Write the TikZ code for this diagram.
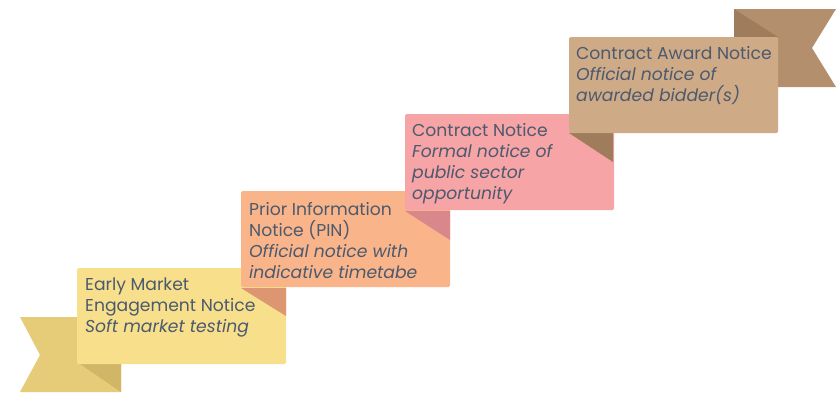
\documentclass[tikz,border=0pt]{standalone}
\usepackage{fontspec}
\setmainfont{Poppins}
\definecolor{ink}{HTML}{4B5A6E}
\definecolor{yelBox}{HTML}{F7DF8B}
\definecolor{yelTail}{HTML}{E6CB79}
\definecolor{yelFold}{HTML}{D2B667}
\definecolor{orBox}{HTML}{F9B48A}
\definecolor{orFold}{HTML}{DC9672}
\definecolor{pkBox}{HTML}{F6A4A6}
\definecolor{pkFold}{HTML}{D9878A}
\definecolor{tnBox}{HTML}{CFAA87}
\definecolor{tnTail}{HTML}{B38F6E}
\definecolor{tnFold}{HTML}{9E7C5C}
\newcommand{\firstline}{\rule{0pt}{12pt}}
\begin{document}
\begin{tikzpicture}[x=1pt,y=-1pt,
  card/.style={rounded corners=1.5pt, inner sep=0pt, outer sep=0pt, anchor=north west,
    minimum width=209pt, minimum height=96pt},
  cardtext/.style={anchor=north west, align=left, inner sep=0pt, text=ink,
    font=\fontsize{17.2}{21}\selectfont},
]
\useasboundingbox (0,0) rectangle (836,392);

% left ribbon tail with its fold
\fill[yelTail] (20,317) -- (121,317) -- (121,392) -- (20,392) -- (40,355) -- cycle;
\fill[yelFold] (80,364) -- (121,364) -- (121,392) -- cycle;

% step 1
\node[card, fill=yelBox] (s1) at (77,268) {};
\node[cardtext] (t1) at ([shift={(8,10)}]s1.north west)
  {\firstline Early Market\\Engagement Notice\\\textit{Soft market testing}};

% step 2
\fill[orFold] (241,288) -- (286,288) -- (286,316) -- cycle;
\node[card, fill=orBox] (s2) at (241,191) {};
\node[cardtext] (t2) at ([shift={(8,11)}]s2.north west)
  {\firstline Prior Information\\Notice (PIN)\\\textit{Official notice with}\\\textit{indicative timetabe}};

% step 3
\fill[pkFold] (405,211) -- (450,211) -- (450,240) -- cycle;
\node[card, fill=pkBox] (s3) at (405,114) {};
\node[cardtext] (t3) at ([shift={(7,9)}]s3.north west)
  {\firstline Contract Notice\\\textit{Formal notice of}\\\textit{public sector}\\\textit{opportunity}};

% step 4 with the right ribbon tail behind it
\fill[tnFold] (569,133) -- (613,133) -- (613,162) -- cycle;
\fill[tnTail] (734,9) -- (836,9) -- (812,48) -- (836,87) -- (734,87) -- cycle;
\fill[tnFold] (734,9) -- (778,37) -- (734,37) -- cycle;
\node[card, fill=tnBox] (s4) at (569,37) {};
\node[cardtext] (t4) at ([shift={(7,9)}]s4.north west)
  {\firstline Contract Award Notice\\\textit{Official notice of}\\\textit{awarded bidder(s)}};
\end{tikzpicture}
\end{document}
